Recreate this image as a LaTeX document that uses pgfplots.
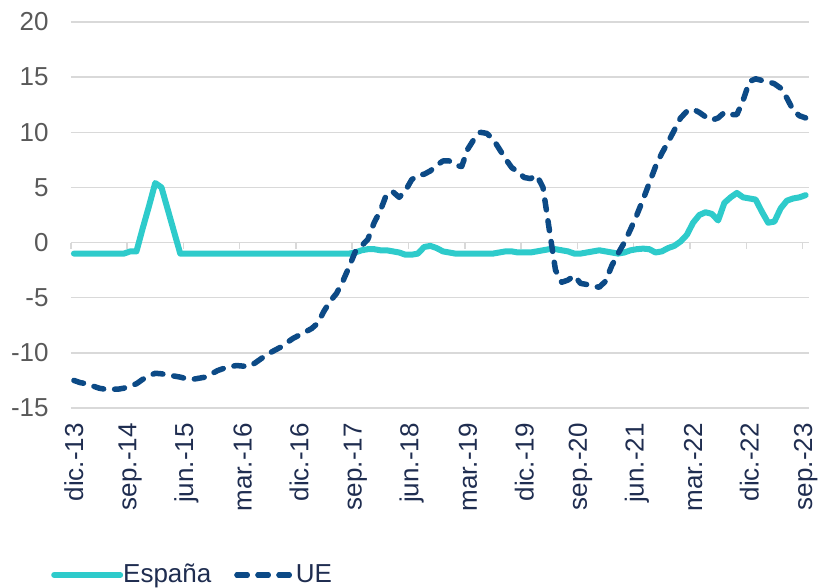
\documentclass[border=0pt]{standalone}
\usepackage{pgfplots}
\pgfplotsset{compat=1.18}
\usepackage{pgfplotstable}
\usepackage{fontspec}
\setmainfont{Liberation Sans}
\definecolor{esp}{HTML}{2ECBCB}
\definecolor{ue}{HTML}{0C4A86}
\definecolor{gridc}{HTML}{D9D9D9}
\definecolor{ylab}{HTML}{595959}
\definecolor{xlab}{HTML}{1F2D50}

\pgfplotstableread{
m E U
0 -1.0 -12.5
1 -1.0 -12.7
2 -1.0 -12.8
3 -1.0 -13.0
4 -1.0 -13.2
5 -1.0 -13.3
6 -1.0 -13.3
7 -1.0 -13.3
8 -1.0 -13.2
9 -0.8 -13.0
10 -0.8 -12.8
11 1.3 -12.4
12 3.3 -12.1
13 5.4 -11.85
14 5.0 -11.9
15 3.0 -12.0
16 1.0 -12.1
17 -1.0 -12.2
18 -1.0 -12.35
19 -1.0 -12.4
20 -1.0 -12.3
21 -1.0 -12.2
22 -1.0 -11.9
23 -1.0 -11.6
24 -1.0 -11.4
25 -1.0 -11.25
26 -1.0 -11.15
27 -1.0 -11.2
28 -1.0 -11.25
29 -1.0 -10.9
30 -1.0 -10.5
31 -1.0 -10.1
32 -1.0 -9.8
33 -1.0 -9.5
34 -1.0 -9.1
35 -1.0 -8.7
36 -1.0 -8.4
37 -1.0 -8.1
38 -1.0 -7.8
39 -1.0 -7.3
40 -1.0 -6.2
41 -1.0 -5.3
42 -1.0 -4.6
43 -1.0 -3.5
44 -1.0 -2.2
45 -0.9 -0.8
46 -0.7 -0.3
47 -0.6 0.3
48 -0.6 1.8
49 -0.7 2.9
50 -0.7 4.4
51 -0.8 4.6
52 -0.9 4.1
53 -1.1 4.7
54 -1.1 5.7
55 -1.0 6.1
56 -0.4 6.2
57 -0.3 6.5
58 -0.5 7.0
59 -0.8 7.4
60 -0.9 7.4
61 -1.0 7.0
62 -1.0 6.9
63 -1.0 8.5
64 -1.0 9.4
65 -1.0 10.0
66 -1.0 9.9
67 -1.0 9.4
68 -0.9 8.5
69 -0.8 7.6
70 -0.8 6.8
71 -0.9 6.4
72 -0.9 5.9
73 -0.9 5.8
74 -0.8 6.1
75 -0.7 5.0
76 -0.6 1.2
77 -0.6 -2.5
78 -0.7 -3.6
79 -0.8 -3.4
80 -1.0 -3.0
81 -1.0 -3.7
82 -0.9 -3.8
83 -0.8 -3.95
84 -0.7 -4.05
85 -0.8 -3.5
86 -0.9 -2.1
87 -1.0 -1.0
88 -0.9 0.0
89 -0.7 1.2
90 -0.6 2.5
91 -0.55 3.9
92 -0.6 5.4
93 -0.9 6.9
94 -0.8 8.1
95 -0.5 9.1
96 -0.3 10.2
97 0.1 11.3
98 0.7 11.9
99 1.8 12.1
100 2.5 11.8
101 2.75 11.4
102 2.6 11.1
103 2.0 11.3
104 3.6 11.8
105 4.1 11.6
106 4.5 11.6
107 4.1 12.9
108 4.0 14.6
109 3.9 14.85
110 2.8 14.7
111 1.8 14.6
112 1.9 14.4
113 3.1 14.0
114 3.8 13.1
115 4.0 12.0
116 4.1 11.5
117 4.3 11.3
}\datatable

\begin{document}
\begin{tikzpicture}
\useasboundingbox (-35.4pt,-90pt) rectangle (375.1pt,204pt);
\begin{axis}[
  scale only axis,
  width=369pt, height=193pt,
  xmin=-0.5, xmax=117.5,
  ymin=-15, ymax=20,
  axis line style={draw=none},
  major tick length=0pt,
  xtick={0,9,...,117},
  xticklabels={dic.-13,sep.-14,jun.-15,mar.-16,dic.-16,sep.-17,jun.-18,mar.-19,dic.-19,sep.-20,jun.-21,mar.-22,dic.-22,sep.-23},
  ytick={-15,-10,-5,0,5,10,15,20},
  yticklabels={-15,-10,-5,0,5,10,15,20},
  ymajorgrids,
  grid style={gridc, line width=0.75pt},
  xticklabel style={rotate=90, anchor=east, inner sep=0pt, xshift=-7.5pt, text=xlab, font=\fontsize{13}{15}\selectfont},
  yticklabel style={anchor=east, inner sep=0pt, xshift=-10.9pt, text=ylab, font=\fontsize{13}{15}\selectfont},
  legend style={at={(axis description cs:-0.0271,-0.4326)}, anchor=west, draw=none, fill=none,
    inner sep=0pt, font=\fontsize{13}{15}\selectfont, text=xlab,
    nodes={inner sep=0pt},
    /tikz/every even column/.append style={column sep=11.5pt}},
  legend columns=2,
  clip=false,
]
\pgfplotsinvokeforeach{0,...,13}{
  \draw[gridc, line width=0.75pt] (axis cs:{#1*9-0.5},0) -- ++(0pt,-3pt);
}
\addplot[esp, line width=3pt, line join=round, line cap=round,
  legend image code/.code={\draw[esp, line width=3pt, line cap=round] (0pt,0pt) -- (33pt,0pt);}]
  table[x=m, y=E] {\datatable};
\addlegendentry{España}
\addplot[ue, line width=2.75pt, line join=round, line cap=round, dash pattern=on 5pt off 5.5pt,
  legend image code/.code={\draw[ue, line width=2.75pt, line cap=round, dash pattern=on 5pt off 5.5pt] (0pt,0pt) -- (26pt,0pt); \path (0pt,0pt) -- (28pt,0pt);}]
  table[x=m, y=U] {\datatable};
\addlegendentry{UE}
\end{axis}
\end{tikzpicture}
\end{document}
